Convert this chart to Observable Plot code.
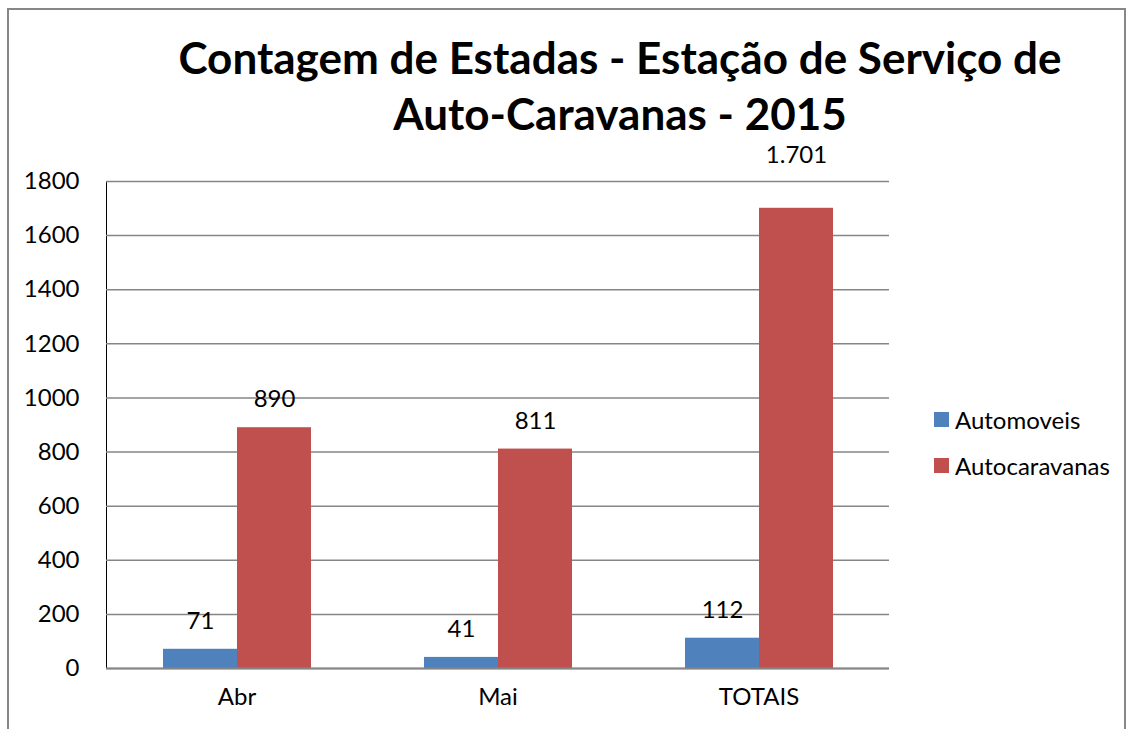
<!DOCTYPE html>
<html>
<head>
<meta charset="utf-8">
<script src="https://cdn.jsdelivr.net/npm/d3@7"></script>
<script src="https://cdn.jsdelivr.net/npm/@observablehq/plot@0.6"></script>
<style>
  html, body { margin: 0; padding: 0; background: #fff; }
  body { width: 1130px; height: 729px; overflow: hidden; position: relative; font-family: Lato, "Open Sans", sans-serif; }
  #border { position: absolute; left: 7px; top: 8px; width: 1119px; height: 760px; border: 2px solid #878787; box-sizing: border-box; }
  #title { position: relative; height: 120px; z-index: 1; }
  #title div { position: absolute; left: 160px; width: 920px; top: 29px; text-align: center; font-weight: bold; font-size: 44px; line-height: 56px; color: #000; }
  #chart { position: relative; }
  #legend { position: absolute; left: 934px; top: 406px; font-size: 24px; color: #000; }
  #legend .item { display: flex; align-items: center; height: 26px; margin-bottom: 20px; }
  #legend .sw { width: 15px; height: 15px; margin-right: 6px; }
</style>
</head>
<body>
<div id="border"></div>
<div id="title"><div>Contagem de Estadas - Estação de Serviço de<br>Auto-Caravanas - 2015</div></div>
<div id="chart"></div>
<div id="legend"></div>
<script>
const categories = ["Abr", "Mai", "TOTAIS"];
const seriesNames = ["Automoveis", "Autocaravanas"];
const automoveis = [71, 41, 112];
const autocaravanas = [890, 811, 1701];
const yTicks = [0, 200, 400, 600, 800, 1000, 1200, 1400, 1600, 1800];
const colors = ["#4F81BD", "#C0504D"];

const data = [];
categories.forEach((c, i) => {
  data.push({cat: c, series: seriesNames[0], value: automoveis[i]});
  data.push({cat: c, series: seriesNames[1], value: autocaravanas[i]});
});

const ptFormat = d3.formatLocale({decimal: ",", thousands: ".", grouping: [3], currency: ["", "€"]}).format(",");
const maxVal = d3.max(data, d => d.value);

const font = 'Lato, "Open Sans", sans-serif';

const chart = Plot.plot({
  width: 1130,
  height: 609,
  marginLeft: 105,
  marginRight: 240,
  marginTop: 61,
  marginBottom: 61,
  style: {fontFamily: font, fontSize: "24px", color: "#000", background: "transparent"},
  fx: {domain: categories, padding: 0, label: null, axis: "bottom", tickSize: 0, tickPadding: 19},
  x: {domain: seriesNames, paddingInner: 0, paddingOuter: 0.745, axis: null},
  y: {domain: [0, 1800], ticks: yTicks, tickFormat: d => String(d), tickSize: 0, tickPadding: 27, label: null, line: true},
  color: {domain: seriesNames, range: colors},
  marks: [
    Plot.gridY(yTicks, {stroke: "#868686", strokeOpacity: 1, strokeWidth: 1.5}),
    Plot.barY(data, {fx: "cat", x: "series", y: "value", fill: "series"}),
    Plot.ruleY([0], {stroke: "#868686", strokeWidth: 2}),
    Plot.text(data.filter(d => d.value !== maxVal), {fx: "cat", x: "series", y: "value", text: d => ptFormat(d.value), dy: -28, fontSize: 24, fill: "#000"}),
    Plot.text(data.filter(d => d.value === maxVal), {fx: "cat", x: "series", y: "value", text: d => ptFormat(d.value), dy: -53, fontSize: 24, fill: "#000"})
  ]
});
document.getElementById("chart").appendChild(chart);

const legend = document.getElementById("legend");
seriesNames.forEach((s, i) => {
  const item = document.createElement("div");
  item.className = "item";
  const sw = document.createElement("div");
  sw.className = "sw";
  sw.style.background = colors[i];
  const t = document.createElement("span");
  t.textContent = s;
  item.appendChild(sw);
  item.appendChild(t);
  legend.appendChild(item);
});
</script>
</body>
</html>
